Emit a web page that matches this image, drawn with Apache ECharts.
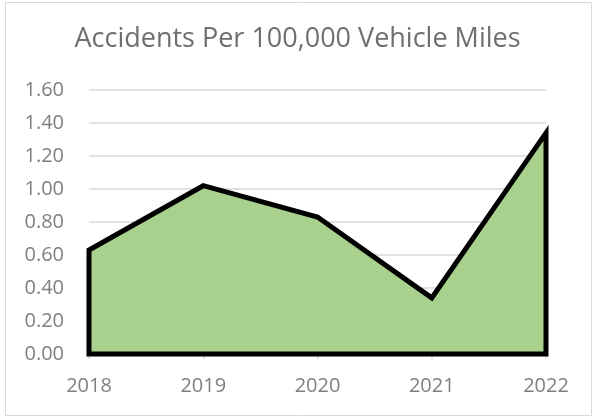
<!DOCTYPE html>
<html>
<head>
<meta charset="utf-8">
<script src="https://cdn.jsdelivr.net/npm/echarts@6/dist/echarts.min.js"></script>
<style>
  html, body { margin: 0; padding: 0; background: #fff; }
  #chart { width: 595px; height: 418px; }
</style>
</head>
<body>
<div id="chart"></div>
<script>
  // data
  let years = ['2018', '2019', '2020', '2021', '2022']
  let accidents = [0.63, 1.02, 0.83, 0.34, 1.34]
  let titleText = 'Accidents Per 100,000 Vehicle Miles'

  let mychart = echarts.init(document.getElementById('chart'))

  // closed polygon: baseline -> points -> baseline, so the outline runs all round
  function renderArea(params, api) {
    if (params.dataIndex !== 0) return
    let pts = []
    pts.push(api.coord([0, 0]))
    for (let i = 0; i < accidents.length; i++) {
      pts.push(api.coord([i, accidents[i]]))
    }
    pts.push(api.coord([accidents.length - 1, 0]))
    return {
      type: 'polygon',
      shape: { points: pts },
      style: {
        fill: '#a9d18e',
        stroke: '#000',
        lineWidth: 5,
        lineJoin: 'miter'
      }
    }
  }

  let option = {
    animation: false,
    backgroundColor: '#fff',
    textStyle: { fontFamily: 'Open Sans' },
    graphic: [{
      type: 'rect',
      shape: { x: 5.5, y: 2.5, width: 586, height: 413 },
      style: { fill: 'none', stroke: '#d9d9d9', lineWidth: 1 }
    }],
    title: {
      text: titleText,
      left: 'center',
      top: 21,
      textStyle: { color: '#6f6f6f', fontSize: 27, fontWeight: 'normal', fontFamily: 'Open Sans' }
    },
    grid: { left: 89, right: 49, top: 90, bottom: 64 },
    xAxis: {
      type: 'category',
      data: years,
      boundaryGap: false,
      axisLine: { lineStyle: { color: '#d9d9d9', width: 1.5 } },
      axisTick: { show: true, length: 5, lineStyle: { color: '#d9d9d9', width: 1.5 } },
      axisLabel: { color: '#7f7f7f', fontSize: 20, margin: 22 }
    },
    yAxis: {
      type: 'value',
      min: 0,
      max: 1.6,
      interval: 0.2,
      axisLine: { show: false },
      axisTick: { show: false },
      axisLabel: {
        color: '#7f7f7f',
        fontSize: 20,
        margin: 25,
        formatter: function (v) { return v.toFixed(2) }
      },
      splitLine: { lineStyle: { color: '#d9d9d9', width: 1.5 } }
    },
    series: [{
      type: 'custom',
      renderItem: renderArea,
      data: accidents.map(function (v, i) { return [i, v] }),
      z: 3
    }]
  }

  mychart.setOption(option)
</script>
</body>
</html>
